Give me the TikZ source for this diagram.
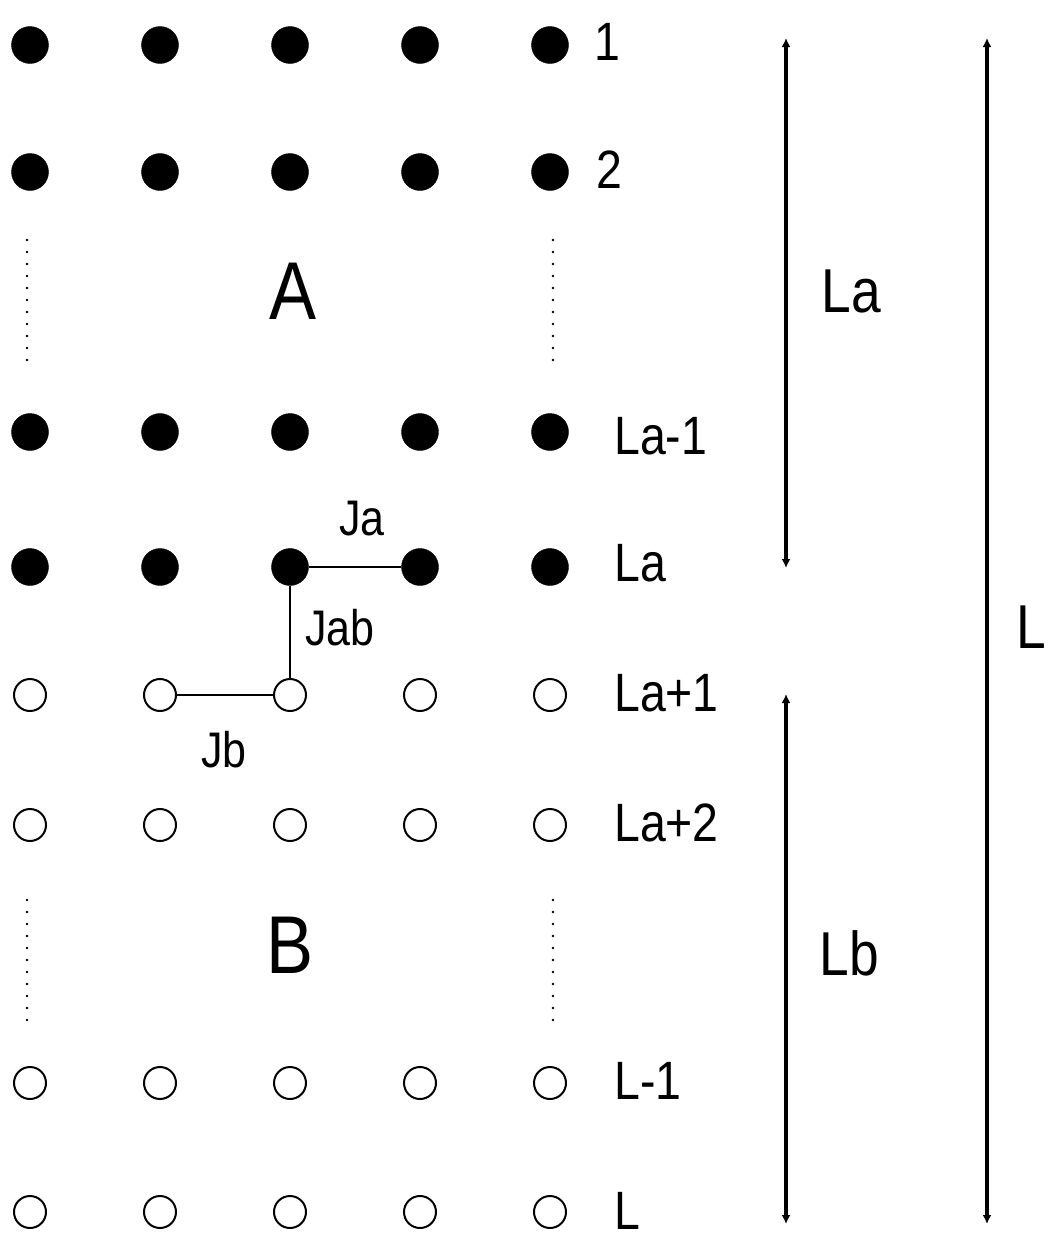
\documentclass[tikz,border=0pt]{standalone}
\usepackage{fontspec}
\setmainfont{Liberation Sans}[FakeStretch=0.86]
\usetikzlibrary{arrows.meta}
\begin{document}
\begin{tikzpicture}[x=1pt,y=-1pt,
  fdot/.style={circle,fill=black,draw=black,inner sep=0pt,minimum size=37pt},
  odot/.style={circle,draw=black,line width=2pt,fill=white,inner sep=0pt,minimum size=32pt},
  rowlbl/.style={anchor=west,inner sep=0pt,font=\fontsize{54}{58}\selectfont},
  jlbl/.style={inner sep=0pt,font=\fontsize{50}{54}\selectfont},
  biglbl/.style={inner sep=0pt,font=\fontsize{82}{86}\selectfont},
  sidelbl/.style={inner sep=0pt,font=\fontsize{62}{66}\selectfont},
  bond/.style={line width=2.8pt},
  vdots/.style={line width=2.6pt,line cap=round,dash pattern=on 0pt off 12pt},
  dim/.style={line width=4pt,{Latex[length=9pt,width=9pt]}-{Latex[length=9pt,width=9pt]}}]
\useasboundingbox (0,0) rectangle (1047,1245);
% filled rows
\foreach \r/\y in {1/45,2/172,3/432,4/567}{
  \foreach \c/\x in {1/30,2/160,3/290,4/420,5/550}{
    \node[fdot] (d-\r-\c) at (\x,\y) {};
  }
}
% open rows
\foreach \r/\y in {5/695,6/825,7/1083,8/1212}{
  \foreach \c/\x in {1/30,2/160,3/290,4/420,5/550}{
    \node[odot] (d-\r-\c) at (\x,\y) {};
  }
}
% dotted continuations
\coordinate (vA1t) at (27,240); \coordinate (vA1b) at (27,360);
\coordinate (vA5t) at (553,240); \coordinate (vA5b) at (553,360);
\coordinate (vB1t) at (27,900); \coordinate (vB1b) at (27,1025);
\coordinate (vB5t) at (553,900); \coordinate (vB5b) at (553,1025);
\draw[vdots] (vA1t) -- (vA1b);
\draw[vdots] (vA5t) -- (vA5b);
\draw[vdots] (vB1t) -- (vB1b);
\draw[vdots] (vB5t) -- (vB5b);
% bonds
\draw[bond] (d-4-3) -- (d-4-4);
\draw[bond] (d-4-3) -- (d-5-3);
\draw[bond] (d-5-2) -- (d-5-3);
\node[jlbl] (ja) at (362,519) {Ja};
\node[jlbl] (jab) at (340,628) {Jab};
\node[jlbl] (jb) at (224,750) {Jb};
% region labels
\node[biglbl] (lA) at (293,291) {A};
\node[biglbl] (lB) at (290,945) {B};
% row labels
\node[rowlbl] (r1) at (594,42) {1};
\node[rowlbl] (r2) at (596,170) {2};
\node[rowlbl] (r3) at (614,436) {La-1};
\node[rowlbl] (r4) at (614,563) {La};
\node[rowlbl] (r5) at (614,693) {La+1};
\node[rowlbl] (r6) at (614,823) {La+2};
\node[rowlbl] (r7) at (614,1081) {L-1};
\node[rowlbl] (r8) at (614,1211) {L};
% dimension lines
\coordinate (laT) at (786,38); \coordinate (laB) at (786,568);
\coordinate (lbT) at (786,694); \coordinate (lbB) at (786,1224);
\coordinate (lT) at (987,38); \coordinate (lB) at (987,1224);
\draw[dim] (laT) -- (laB);
\draw[dim] (lbT) -- (lbB);
\draw[dim] (lT) -- (lB);
\node[sidelbl] (sla) at (851,291) {La};
\node[sidelbl] (slb) at (849,953) {Lb};
\node[sidelbl] (sl) at (1031,627) {L};
\end{tikzpicture}
\end{document}
